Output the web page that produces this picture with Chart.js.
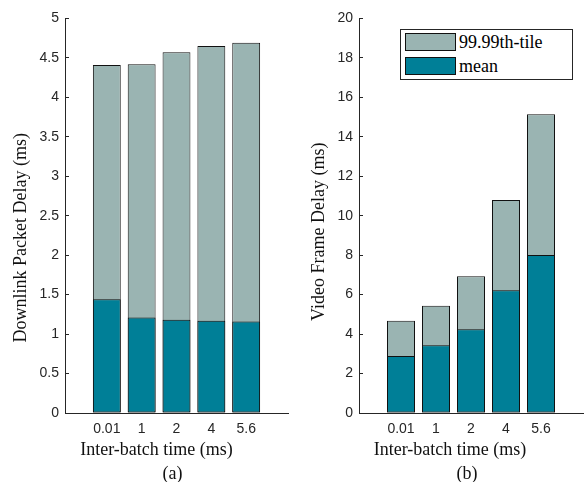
<!DOCTYPE html>
<html>
<head>
<meta charset="utf-8">
<script src="https://cdn.jsdelivr.net/npm/chart.js@4/dist/chart.umd.min.js"></script>
<style>
  html, body { margin: 0; padding: 0; background: #fff; }
  #wrap { position: relative; width: 586px; height: 482px; }
  #wrap canvas { position: absolute; top: 0; }
  #chart-a { left: 0; }
  #chart-b { left: 293px; }
  #legend {
    position: absolute; left: 400px; top: 29px; width: 171px; height: 49px;
    border: 1px solid #262626; background: #fff;
    font: 18px "Liberation Serif", serif; color: #000;
  }
  #legend .row { position: absolute; left: 4px; height: 18px; line-height: 18px; white-space: nowrap; }
  #legend .sw { display: inline-block; width: 49px; height: 16px; border: 1px solid #111; vertical-align: top; margin-right: 3px; }
</style>
</head>
<body>
<div id="wrap">
  <canvas id="chart-a" width="293" height="482"></canvas>
  <canvas id="chart-b" width="293" height="482"></canvas>
  <div id="legend"></div>
</div>
<script>
// inter-batch times (ms), one bar per value
const batchTimes = ['0.01', '1', '2', '4', '5.6'];

// (a) downlink packet delay, ms
const pktTail = [4.41, 4.42, 4.57, 4.65, 4.69];
const pktMean = [1.44, 1.21, 1.18, 1.17, 1.16];

// (b) video frame delay, ms
const frameTail = [4.68, 5.44, 6.93, 10.79, 15.14];
const frameMean = [2.89, 3.43, 4.25, 6.22, 8.01];

const TAIL_COLOR = '#9AB4B2';
const MEAN_COLOR = '#007F97';
const INK = '#262626';

Chart.defaults.font.family = '"Liberation Sans", Arial, sans-serif';
Chart.defaults.font.size = 14;
Chart.defaults.color = INK;

// axis captions in serif, placed relative to the plot area
const captions = {
    id: 'captions',
    afterDraw(chart, args, opts) {
        const ctx = chart.ctx;
        const a = chart.chartArea;
        const cx = (a.left + a.right) / 2;
        const cy = (a.top + a.bottom) / 2;
        ctx.save();
        ctx.fillStyle = '#111';
        ctx.font = '18px "Liberation Serif", serif';
        ctx.textAlign = 'center';
        ctx.textBaseline = 'middle';
        ctx.fillText(opts.xTitle, cx + opts.xShift, a.bottom + 37);
        ctx.fillText(opts.tag, cx + opts.tagShift, a.bottom + 61);
        ctx.translate(a.left - opts.yGap, cy + opts.yShift);
        ctx.rotate(-Math.PI / 2);
        ctx.fillText(opts.yTitle, 0, 0);
        ctx.restore();
    }
};

function points(values) {
    return values.map((v, i) => ({ x: i + 1, y: v }));
}

function makeChart(id, tail, mean, yMax, yStep, yWidth, padRight, caps) {
    return new Chart(document.getElementById(id), {
        type: 'bar',
        data: {
            datasets: [
                {
                    label: '99.99th-tile',
                    data: points(tail),
                    backgroundColor: TAIL_COLOR,
                    order: 1
                },
                {
                    label: 'mean',
                    data: points(mean),
                    backgroundColor: MEAN_COLOR,
                    order: 0
                }
            ]
        },
        options: {
            responsive: false,
            animation: false,
            layout: { padding: { top: 15, right: padRight, left: 0, bottom: 0 } },
            datasets: {
                bar: {
                    grouped: false,
                    borderColor: '#111',
                    borderWidth: 1,
                    borderSkipped: false,
                    categoryPercentage: 1,
                    barPercentage: 0.8
                }
            },
            plugins: {
                legend: { display: false },
                tooltip: { enabled: false },
                captions: caps
            },
            scales: {
                x: {
                    type: 'linear',
                    min: -0.2,
                    max: 6.2,
                    offset: false,
                    grid: { display: true, offset: false, drawOnChartArea: false, drawTicks: false },
                    border: { display: true, color: INK, width: 1 },
                    ticks: {
                        autoSkip: false,
                        maxRotation: 0,
                        padding: 8,
                        callback: (v) => batchTimes[v - 1]
                    },
                    afterBuildTicks: (scale) => {
                        scale.ticks = batchTimes.map((t, i) => ({ value: i + 1 }));
                    },
                    afterFit: (scale) => { scale.height = 69; }
                },
                y: {
                    min: 0,
                    max: yMax,
                    grid: { drawOnChartArea: false, drawTicks: true, tickLength: -4, color: INK },
                    border: { display: true, color: INK, width: 1 },
                    ticks: {
                        stepSize: yStep,
                        padding: 10,
                        callback: (v) => String(Math.round(v * 10) / 10)
                    },
                    afterFit: (scale) => { scale.width = yWidth; }
                }
            }
        },
        plugins: [captions]
    });
}

const chartA = makeChart('chart-a', pktTail, pktMean, 5, 0.5, 65, 5, {
    xTitle: 'Inter-batch time (ms)', xShift: -20, tag: '(a)', tagShift: -4,
    yTitle: 'Downlink Packet Delay (ms)', yGap: 44, yShift: 22
});

const chartB = makeChart('chart-b', frameTail, frameMean, 20, 2, 66, 3, {
    xTitle: 'Inter-batch time (ms)', xShift: -21, tag: '(b)', tagShift: -4,
    yTitle: 'Video Frame Delay (ms)', yGap: 40, yShift: 16
});

// legend box inside plot (b), built from its datasets
const legend = document.getElementById('legend');
chartB.data.datasets.forEach((ds, i) => {
    const row = document.createElement('div');
    row.className = 'row';
    row.style.top = (3 + i * 24) + 'px';
    const sw = document.createElement('span');
    sw.className = 'sw';
    sw.style.background = ds.backgroundColor;
    row.appendChild(sw);
    row.appendChild(document.createTextNode(ds.label));
    legend.appendChild(row);
});
</script>
</body>
</html>
